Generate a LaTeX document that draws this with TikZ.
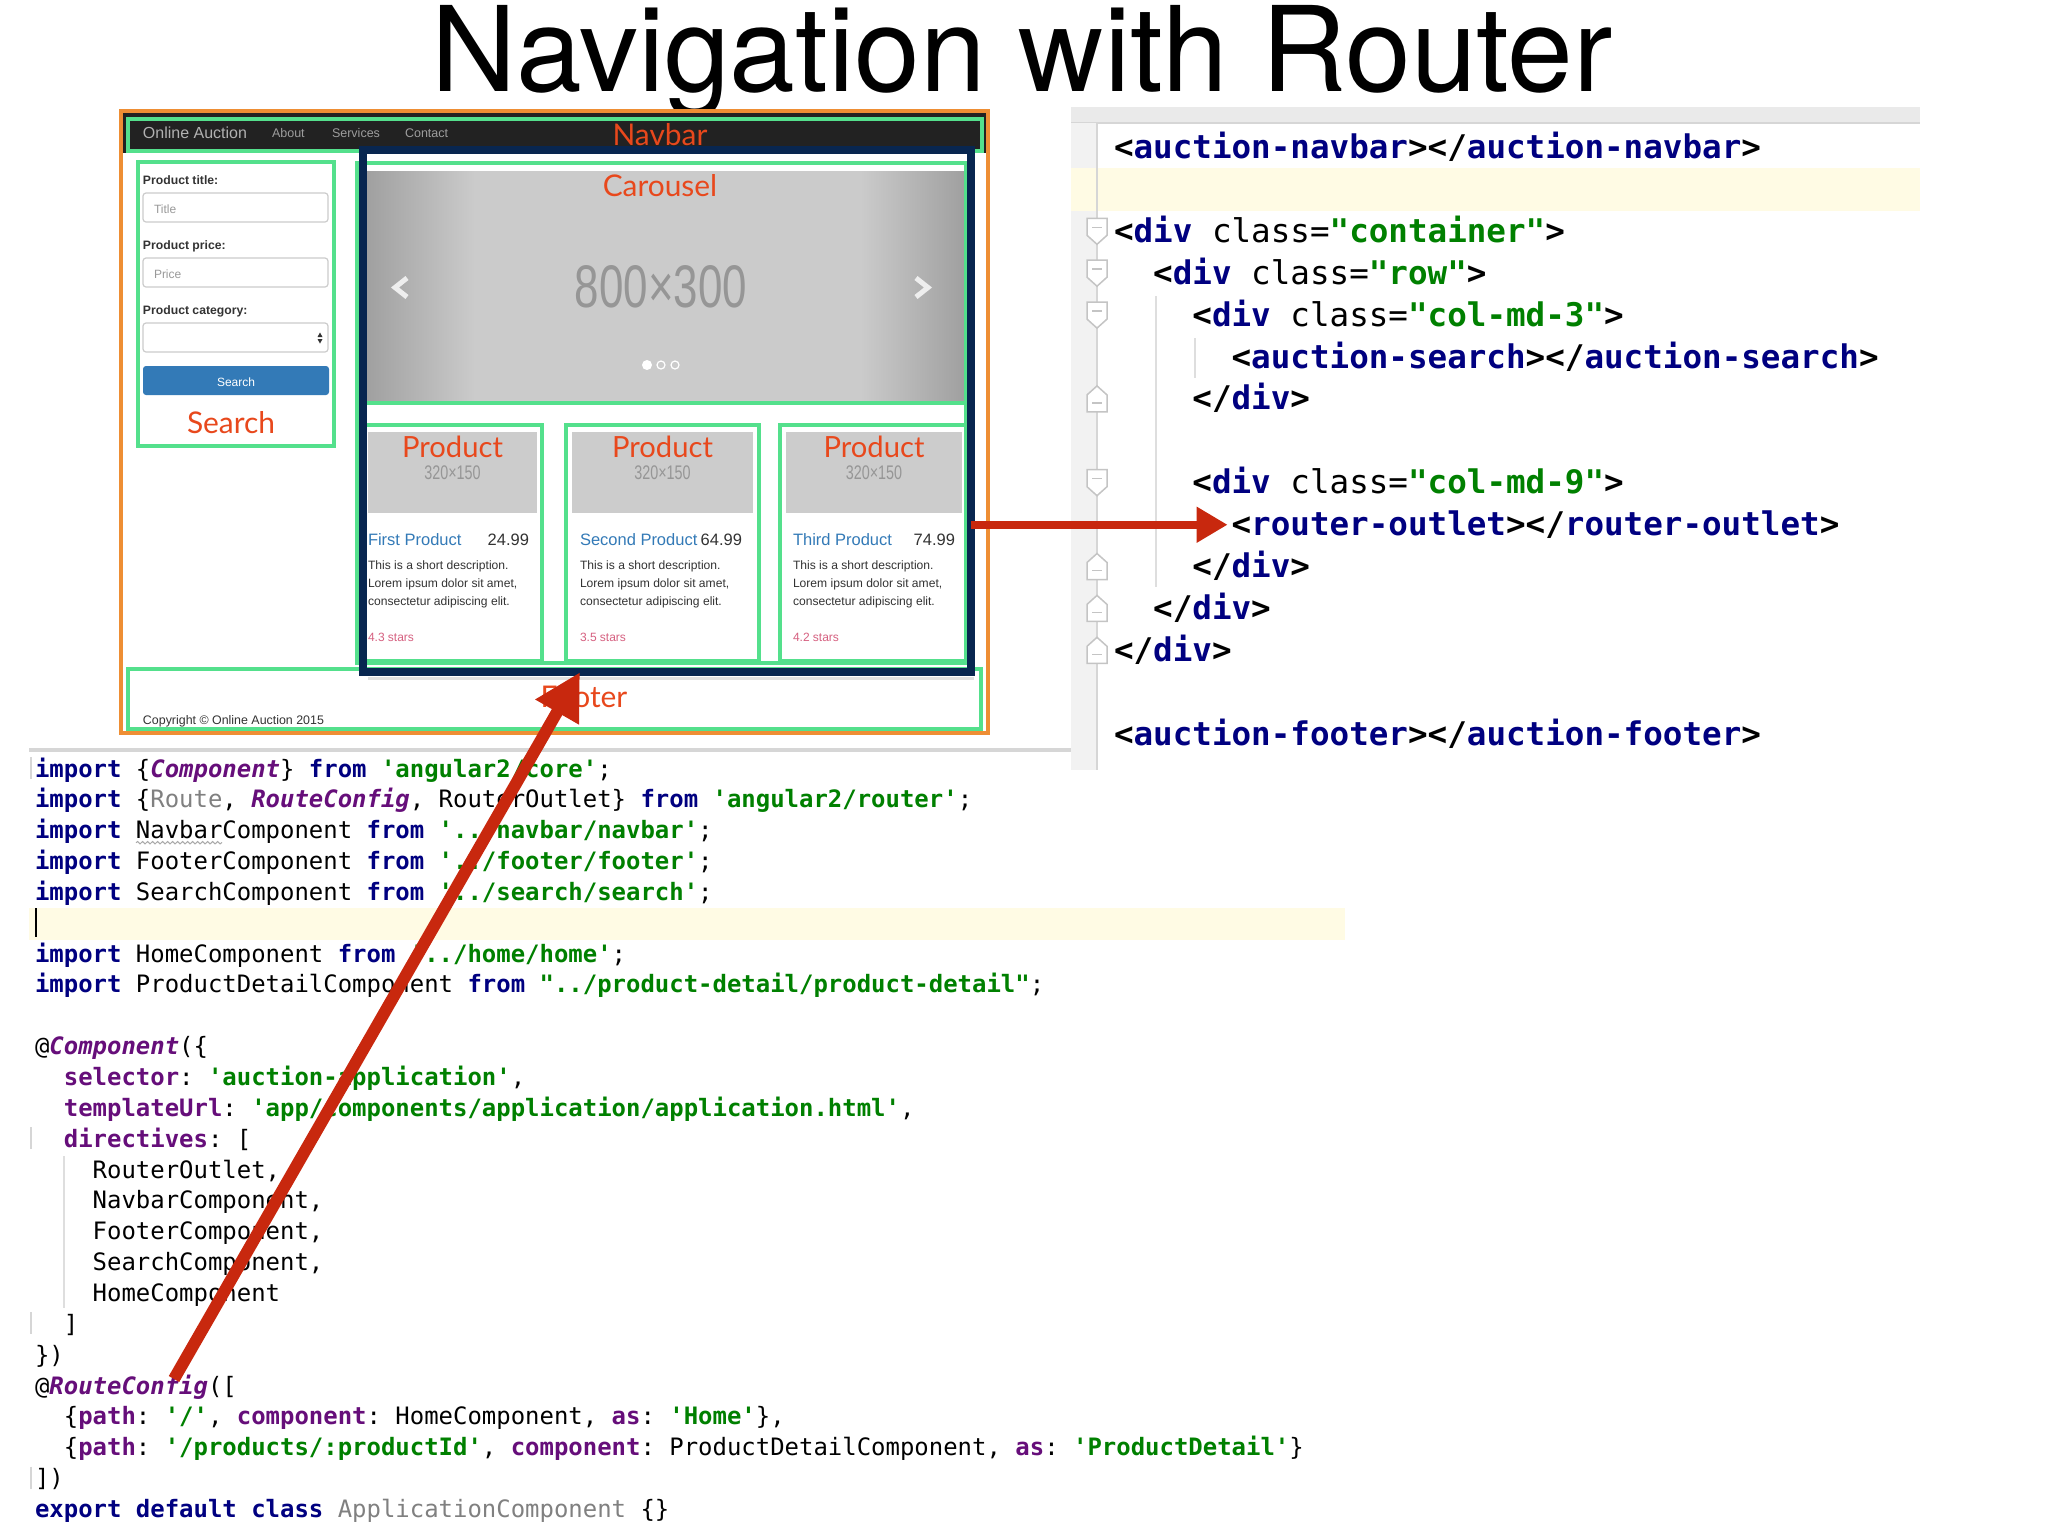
\documentclass[tikz,border=0pt]{standalone}
\usepackage{fontspec}
\setmainfont{Liberation Sans}
\setmonofont{DejaVu Sans Mono}
\newfontfamily\uif{Liberation Sans}
\newfontfamily\titlef{TeX Gyre Heros}
\newfontfamily\lblf{Lato}
\newfontfamily\condf[FakeStretch=0.73]{Liberation Sans}
\usetikzlibrary{arrows.meta,calc,decorations.pathmorphing}
\newcommand\fsz[1]{\fontsize{#1pt}{#1pt}\selectfont}
\definecolor{orangeC}{RGB}{238,142,52}
\definecolor{greenC}{RGB}{84,224,140}
\definecolor{navyC}{RGB}{8,38,80}
\definecolor{navbarC}{RGB}{34,34,34}
\definecolor{lblC}{RGB}{232,72,28}
\definecolor{arrC}{RGB}{200,40,14}
\definecolor{kwC}{RGB}{0,0,128}
\definecolor{strC}{RGB}{0,128,0}
\definecolor{puC}{RGB}{102,14,122}
\definecolor{grC}{RGB}{128,128,128}
\definecolor{yelC}{RGB}{255,251,228}
\definecolor{gutC}{RGB}{242,242,242}
\definecolor{gutlineC}{RGB}{214,214,214}
\definecolor{foldC}{RGB}{196,196,196}
\definecolor{topbandC}{RGB}{234,234,234}
\definecolor{guideC}{RGB}{222,222,222}
\definecolor{inpC}{RGB}{204,204,204}
\definecolor{btnC}{RGB}{51,122,183}
\definecolor{phC}{RGB}{153,153,153}
\definecolor{cgbase}{RGB}{203,203,203}
\definecolor{cgdark}{RGB}{160,160,160}
\definecolor{imgC}{RGB}{204,204,204}
\definecolor{phtwoC}{RGB}{150,150,150}
\definecolor{linkC}{RGB}{51,122,183}
\definecolor{starC}{RGB}{214,96,128}
\definecolor{txtC}{RGB}{51,51,51}
\definecolor{navtxtC}{RGB}{157,157,157}
\definecolor{chevC}{RGB}{238,238,238}
\definecolor{sqC}{RGB}{170,170,170}
\newcommand\Kw[1]{\textcolor{kwC}{\bfseries #1}}
\newcommand\St[1]{\textcolor{strC}{\bfseries #1}}
\newcommand\Pu[1]{\textcolor{puC}{\bfseries #1}}
\newcommand\PuI[1]{\textcolor{puC}{\bfseries\itshape #1}}
\newcommand\Gr[1]{\textcolor{grC}{#1}}
\newcommand\Tn[1]{\textcolor{kwC}{\bfseries #1}}
\newcommand\Tb[1]{{\bfseries #1}}
\tikzset{
  txt/.style={inner sep=0pt, outer sep=0pt},
  lbl/.style={inner sep=0pt, outer sep=0pt, font=\lblf\fsz{8.5}, text=lblC},
  gbox/.style={draw=greenC, line width=0.045cm},
  lc/.style={anchor=base west, inner sep=0pt, outer sep=0pt, font=\ttfamily\fsz{6.81}},
  rc/.style={anchor=base west, inner sep=0pt, outer sep=0pt, font=\ttfamily\fsz{9.26}},
  inp/.style={draw=inpC, fill=white, rounded corners=0.03cm, line width=0.012cm},
  arrA/.style={draw=arrC, line width=0.08cm, -{Triangle[length=0.31cm,width=0.34cm]}},
  arrB/.style={draw=arrC, line width=0.12cm, -{Triangle[length=0.46cm,width=0.47cm]}},
  foldmark/.style={fill=white, draw=foldC, line width=0.015cm}
}
\begin{document}
\begin{tikzpicture}[x=0.01cm,y=-0.01cm]
\useasboundingbox (0,0) rectangle (2048,1536);
\fill[white] (0,0) rectangle (2048,1536);

% title
\node[txt, anchor=base, font=\titlef\fsz{33.6}] (title) at (1022,91) {Navigation with Router};

% ---------- screenshot ----------
\fill[white] (121,111) rectangle (988,733);
\fill[navbarC] (123,113) rectangle (986,153);
\draw[gbox] (128,119) rectangle (982,151);
\node[txt, anchor=base west, font=\uif\fsz{4.55}, text=navtxtC!80!white] (brand) at (143,138) {Online Auction};
\node[txt, anchor=base west, font=\uif\fsz{3.56}, text=navtxtC] (about) at (272,137) {About};
\node[txt, anchor=base west, font=\uif\fsz{3.56}, text=navtxtC] (services) at (332,137) {Services};
\node[txt, anchor=base west, font=\uif\fsz{3.56}, text=navtxtC] (contact) at (405,137) {Contact};

% search form
\draw[gbox] (138,162) rectangle (334,446);
\node[txt, anchor=base west, font=\uif\bfseries\fsz{3.47}, text=txtC] (lbtitle) at (143,184) {Product title:};
\draw[inp] (143,193) rectangle (328,222);
\node[txt, anchor=base west, font=\uif\fsz{3.41}, text=phC] (phtitle) at (154,213) {Title};
\node[txt, anchor=base west, font=\uif\bfseries\fsz{3.47}, text=txtC] (lbprice) at (143,249) {Product price:};
\draw[inp] (143,258) rectangle (328,287);
\node[txt, anchor=base west, font=\uif\fsz{3.41}, text=phC] (phprice) at (154,278) {Price};
\node[txt, anchor=base west, font=\uif\bfseries\fsz{3.47}, text=txtC] (lbcat) at (143,314) {Product category:};
\draw[inp] (143,323) rectangle (328,352);
\fill[txtC] (317.5,337) -- (322.5,337) -- (320,332.5) -- cycle;
\fill[txtC] (317.5,339) -- (322.5,339) -- (320,343.5) -- cycle;
\fill[btnC, rounded corners=0.03cm] (143,366) rectangle (329,395);
\node[txt, anchor=base, font=\uif\fsz{3.41}, text=white] (btn) at (236,386) {Search};

% carousel
\fill[cgbase] (367,171) rectangle (964,401);
\shade[left color=cgdark, right color=cgbase] (367,171) rectangle (475,401);
\shade[left color=cgbase, right color=cgdark] (860,171) rectangle (964,401);
\node[txt, font=\condf\fsz{17.1}, text=phtwoC] (ph800) at (661,287) {800×300};
\draw[chevC, line width=0.05cm] (407,278) -- (395,287.5) -- (407,297);
\draw[chevC, line width=0.05cm] (916,278) -- (928,287.5) -- (916,297);
\fill[white] (647,365) circle (5);
\draw[white, line width=0.012cm] (661,365) circle (4);
\draw[white, line width=0.012cm] (675,365) circle (4);
\draw[gbox] (357,163) rectangle (966,663);
\draw[gbox] (357,403) -- (966,403);

% products
\foreach \k/\gl/\gr/\il/\ir/\tx/\pe/\ttl/\pr/\st in {
  1/362/542/368/537/368/529/First Product/24.99/4.3,
  2/566/759/572/753/580/742/Second Product/64.99/3.5,
  3/780/967/786/962/793/955/Third Product/74.99/4.2}{
  \pgfmathsetmacro\cx{(\il+\ir)/2}
  \draw[gbox] (\gl,425) rectangle (\gr,661);
  \fill[imgC] (\il,432) rectangle (\ir,513);
  \node[lbl, font=\lblf\fsz{8.3}] (plabel\k) at (\cx,447) {Product};
  \node[txt, font=\condf\fsz{5.6}, text=phtwoC] (pimg\k) at (\cx,473) {320×150};
  \node[txt, anchor=base west, font=\uif\fsz{4.69}, text=linkC] (ptitle\k) at (\tx,545) {\ttl};
  \node[txt, anchor=base east, font=\uif\fsz{4.69}, text=txtC] (pprice\k) at (\pe,545) {\pr};
  \node[txt, anchor=base west, font=\uif\fsz{3.44}, text=txtC] (pda\k) at (\tx,569) {This is a short description.};
  \node[txt, anchor=base west, font=\uif\fsz{3.44}, text=txtC] (pdb\k) at (\tx,587) {Lorem ipsum dolor sit amet,};
  \node[txt, anchor=base west, font=\uif\fsz{3.44}, text=txtC] (pdc\k) at (\tx,605) {consectetur adipiscing elit.};
  \node[txt, anchor=base west, font=\uif\fsz{3.41}, text=starC] (pst\k) at (\tx,641) {\st{} stars};
}

% footer
\draw[gbox] (128,669) rectangle (981,729);
\node[txt, anchor=base west, font=\uif\fsz{3.53}, text=txtC] (copy) at (143,724) {Copyright © Online Auction 2015};

% router outlet frame
\draw[black!12, line width=0.03cm] (368,678) -- (974,678);
\node[draw=navyC, line width=0.08cm, minimum width=6.08cm, minimum height=5.22cm, inner sep=0pt, outer sep=0pt] (outlet) at (667,411) {};

% orange frame
\draw[orangeC, line width=0.04cm] (121,111) rectangle (988,733);

% labels
\node[lbl] (lnavbar) at (660,135) {Navbar};
\node[lbl] (lcarousel) at (660,186) {Carousel};
\node[lbl] (lsearch) at (231,423) {Search};
\node[lbl] (lfooter) at (584,697) {Footer};

% ---------- right code panel ----------
\fill[topbandC] (1071,107) rectangle (1920,123);
\draw[gutlineC, line width=0.012cm] (1071,123) -- (1920,123);
\fill[gutC] (1071,123) rectangle (1097,770);
\fill[yelC] (1071,168) rectangle (1920,211);
\draw[gutlineC, line width=0.015cm] (1097,123) -- (1097,770);
\draw[guideC, line width=0.012cm] (1156,296) -- (1156,587);
\draw[guideC, line width=0.012cm] (1195,338) -- (1195,378);
\foreach \i in {2,3,4,8}{
  \pgfmathsetmacro\yy{147.5+41.9*\i}
  \begin{scope}[shift={(1097,\yy)}]
    \filldraw[foldmark] (-10,-13) -- (10,-13) -- (10,4) -- (0,13) -- (-10,4) -- cycle;
    \draw[foldC, line width=0.015cm] (-5,-4) -- (5,-4);
  \end{scope}
}
\foreach \i in {6,10,11,12}{
  \pgfmathsetmacro\yy{147.5+41.9*\i}
  \begin{scope}[shift={(1097,\yy)}]
    \filldraw[foldmark] (-10,13) -- (10,13) -- (10,-4) -- (0,-13) -- (-10,-4) -- cycle;
    \draw[foldC, line width=0.015cm] (-5,4) -- (5,4);
  \end{scope}
}
\node[rc] (r0) at (1114,158.5) {\Tb{<}\Tn{auction-navbar}\Tb{></}\Tn{auction-navbar}\Tb{>}};
\node[rc] (r2) at (1114,242.3) {\Tb{<}\Tn{div} class=\St{"container"}\Tb{>}};
\node[rc] (r3) at (1114,284.2) {\phantom{xx}\Tb{<}\Tn{div} class=\St{"row"}\Tb{>}};
\node[rc] (r4) at (1114,326.1) {\phantom{xxxx}\Tb{<}\Tn{div} class=\St{"col-md-3"}\Tb{>}};
\node[rc] (r5) at (1114,368) {\phantom{xxxxxx}\Tb{<}\Tn{auction-search}\Tb{></}\Tn{auction-search}\Tb{>}};
\node[rc] (r6) at (1114,409.9) {\phantom{xxxx}\Tb{</}\Tn{div}\Tb{>}};
\node[rc] (r8) at (1114,493.7) {\phantom{xxxx}\Tb{<}\Tn{div} class=\St{"col-md-9"}\Tb{>}};
\node[rc] (rout) at (1231.6,535.6) {\Tb{<}\Tn{router-outlet}\Tb{></}\Tn{router-outlet}\Tb{>}};
\node[rc] (r10) at (1114,577.5) {\phantom{xxxx}\Tb{</}\Tn{div}\Tb{>}};
\node[rc] (r11) at (1114,619.4) {\phantom{xx}\Tb{</}\Tn{div}\Tb{>}};
\node[rc] (r12) at (1114,661.3) {\Tb{</}\Tn{div}\Tb{>}};
\node[rc] (r14) at (1114,745.1) {\Tb{<}\Tn{auction-footer}\Tb{></}\Tn{auction-footer}\Tb{>}};

% ---------- left code panel ----------
\fill[gutlineC] (29,748) rectangle (1071,752);
\fill[yelC] (29,908) rectangle (1345,940);
\draw[black, line width=0.025cm] (36,908) -- (36,937);
\draw[guideC, line width=0.012cm] (64,1156) -- (64,1308);
\foreach \i in {0,12,18,23}{
  \pgfmathsetmacro\yy{777+30.85*\i}
  \draw[gutlineC, line width=0.02cm] (31,\yy-20) -- (31,\yy+2);
}
\node[lc] (l0) at (35,777) {\Kw{import} \{\PuI{Component}\} \Kw{from} \St{'angular2/core'};};
\node[lc] (l1) at (35,807.85) {\Kw{import} \{\Gr{Route}, \PuI{RouteConfig}, RouterOutlet\} \Kw{from} \St{'angular2/router'};};
\node[lc] (l2) at (35,838.7) {\Kw{import} NavbarComponent \Kw{from} \St{'../navbar/navbar'};};
\node[lc] (l3) at (35,869.55) {\Kw{import} FooterComponent \Kw{from} \St{'../footer/footer'};};
\node[lc] (l4) at (35,900.4) {\Kw{import} SearchComponent \Kw{from} \St{'../search/search'};};
\node[lc] (l6) at (35,962.1) {\Kw{import} HomeComponent \Kw{from} \St{'../home/home'};};
\node[lc] (l7) at (35,992.95) {\Kw{import} ProductDetailComponent \Kw{from} \St{"../product-detail/product-detail"};};
\node[lc] (l9) at (35,1054.65) {@\PuI{Component}(\{};
\node[lc] (l10) at (35,1085.5) {\phantom{xx}\Pu{selector}: \St{'auction-application'},};
\node[lc] (l11) at (35,1116.35) {\phantom{xx}\Pu{templateUrl}: \St{'app/components/application/application.html'},};
\node[lc] (l12) at (35,1147.2) {\phantom{xx}\Pu{directives}: [};
\node[lc] (l13) at (35,1178.05) {\phantom{xxxx}RouterOutlet,};
\node[lc] (l14) at (35,1208.9) {\phantom{xxxx}NavbarComponent,};
\node[lc] (l15) at (35,1239.75) {\phantom{xxxx}FooterComponent,};
\node[lc] (l16) at (35,1270.6) {\phantom{xxxx}SearchComponent,};
\node[lc] (l17) at (35,1301.45) {\phantom{xxxx}HomeComponent};
\node[lc] (l18) at (35,1332.3) {\phantom{xx}]};
\node[lc] (l19) at (35,1363.15) {\})};
\node[lc] (l20) at (35,1394) {@\PuI{RouteConfig}([};
\node[lc] (l21) at (35,1424.85) {\phantom{xx}\{\Pu{path}: \St{'/'}, \Pu{component}: HomeComponent, \Pu{as}: \St{'Home'}\},};
\node[lc] (l22) at (35,1455.7) {\phantom{xx}\{\Pu{path}: \St{'/products/:productId'}, \Pu{component}: ProductDetailComponent, \Pu{as}: \St{'ProductDetail'}\}};
\node[lc] (l23) at (35,1486.55) {])};
\node[lc] (l24) at (35,1517.4) {\Kw{export default class} \Gr{ApplicationComponent} \{\}};
\draw[sqC, line width=0.01cm, decorate, decoration={snake, amplitude=0.012cm, segment length=0.05cm}] ($(l2.base west)+(101,4)$) -- ++(86,0);

% ---------- arrows ----------
\draw[arrA] (outlet.east |- rout.west) -- ($(rout.west)+(-4,0)$);
\coordinate (cfg) at ($(l20.base west)+(139,-15)$);
\coordinate (hit) at (580,0);
\draw[arrB] (cfg) -- (hit |- outlet.south);
\end{tikzpicture}
\end{document}
